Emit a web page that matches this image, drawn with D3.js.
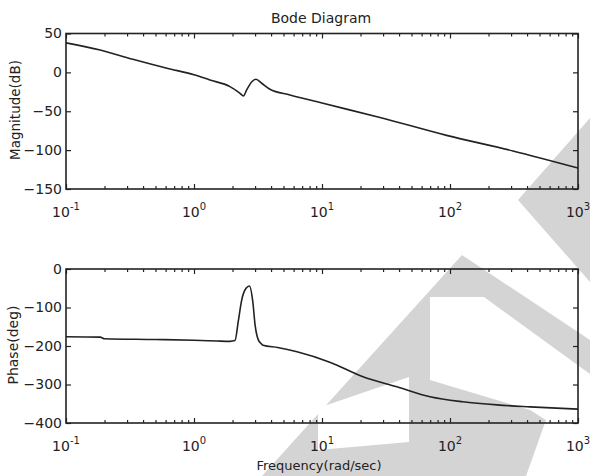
<!DOCTYPE html>
<html><head><meta charset="utf-8">
<script src="https://cdn.jsdelivr.net/npm/d3@7"></script>
<style>html,body{margin:0;padding:0;background:#fff;} svg{display:block;}</style>
</head><body><svg id="c" width="590" height="476"></svg>
<script>
// ---- data ----
const magFreq = [0.1, 0.185, 0.333, 0.615, 1.0, 1.33, 1.91, 2.29, 2.43, 2.58, 2.83, 3.05, 3.38, 3.92, 5.62, 10, 28.4, 94, 310, 1000];
const magDb   = [38, 28.8, 16.8, 5.3, -3, -9.8, -18.3, -26.9, -30.3, -22.6, -12, -8.9, -14, -21.7, -29, -39.5, -58, -81, -101, -123];
const phaseFreq = [0.1, 0.185, 0.2, 0.5, 1.0, 1.5, 1.91, 2.09, 2.22, 2.36, 2.55, 2.71, 2.88, 3.0, 3.18, 3.38, 3.46, 4.5, 6.38, 11.5, 20.9, 38.5, 69.8, 126, 233, 422, 1000];
const phaseDeg  = [-176, -177, -181, -183, -185, -187, -188, -186, -135, -80, -50, -44, -85, -145, -184, -195, -198, -204, -215, -242, -280, -306, -332, -345, -353, -358, -364];
const decadeExponents = [-1, 0, 1, 2, 3];
const magTicks = [50, 0, -50, -100, -150];
const phaseTicks = [0, -100, -200, -300, -400];
const titleText = "Bode Diagram";
const magLabel = "Magnitude(dB)";
const phaseLabel = "Phase(deg)";
const freqLabel = "Frequency(rad/sec)";

// ---- drawing ----
const svg = d3.select("#c");
const FONT = "'DejaVu Sans', 'Liberation Sans', sans-serif";
const INK = "#222";

// background watermark (decoration)
const watermark = [
  [[590,118],[518,200],[590,282]],
  [[462,255],[590,340],[590,374],[484,297],[430,297],[430,476],[262,476]],
  [[430,380],[530,410],[546,420],[526,476],[430,476]]
];
const wm = svg.append("g").attr("fill", "#d4d4d4");
watermark.forEach(p => wm.append("polygon").attr("points", p.map(q => q.join(",")).join(" ")));
svg.append("polygon").attr("fill", "#fff")
  .attr("points", [[318,408],[409,377],[409,442],[318,450]].map(q => q.join(",")).join(" "));

const L = 66, R = 578;
const x = d3.scaleLog().domain([0.1, 1000]).range([L, R]);
const minorTicks = [];
decadeExponents.slice(0, -1).forEach(e => { for (let m = 2; m <= 9; m++) minorTicks.push(m * Math.pow(10, e)); });
const majorTicks = decadeExponents.map(e => Math.pow(10, e));

function panel(y, yTicks, freq, vals, top, bottom) {
  const g = svg.append("g");
  // curve
  g.append("path")
    .datum(d3.zip(freq, vals))
    .attr("fill", "none").attr("stroke", INK).attr("stroke-width", 1.6)
    .attr("stroke-linejoin", "round")
    .attr("d", d3.line().x(d => x(d[0])).y(d => y(d[1])).curve(d3.curveMonotoneX));

  const styleAxis = sel => {
    sel.select(".domain").remove();
    sel.selectAll("line").attr("stroke", INK).attr("stroke-width", 1.2);
    sel.selectAll("text").attr("font-family", FONT).attr("font-size", 14).attr("fill", INK);
  };
  // x ticks bottom & top
  g.append("g").attr("transform", `translate(0,${bottom})`)
    .call(d3.axisBottom(x).tickValues(majorTicks).tickSize(-5).tickFormat("")).call(styleAxis);
  g.append("g").attr("transform", `translate(0,${bottom})`)
    .call(d3.axisBottom(x).tickValues(minorTicks).tickSize(-3).tickFormat("")).call(styleAxis);
  g.append("g").attr("transform", `translate(0,${top})`)
    .call(d3.axisTop(x).tickValues(majorTicks).tickSize(-5).tickFormat("")).call(styleAxis);
  g.append("g").attr("transform", `translate(0,${top})`)
    .call(d3.axisTop(x).tickValues(minorTicks).tickSize(-3).tickFormat("")).call(styleAxis);
  // y ticks left (with labels) & right
  g.append("g").attr("transform", `translate(${L},0)`)
    .call(d3.axisLeft(y).tickValues(yTicks).tickSize(-5).tickPadding(4).tickFormat(d3.format("d"))).call(styleAxis);
  g.append("g").attr("transform", `translate(${R},0)`)
    .call(d3.axisRight(y).tickValues(yTicks).tickSize(-5).tickFormat("")).call(styleAxis);
  // frame
  g.append("rect").attr("x", L).attr("y", top).attr("width", R - L).attr("height", bottom - top)
    .attr("fill", "none").attr("stroke", INK).attr("stroke-width", 1.6);
  // x tick labels 10^n
  decadeExponents.forEach(e => {
    const t = g.append("text").attr("x", x(Math.pow(10, e))).attr("y", bottom + 28)
      .attr("text-anchor", "middle").attr("font-family", FONT).attr("font-size", 14).attr("fill", INK);
    t.append("tspan").text("10");
    t.append("tspan").attr("dy", -7).attr("font-size", 10).text(String(e));
  });
}

const yMag = d3.scaleLinear().domain([-150, 50]).range([189, 33.5]);
const yPh = d3.scaleLinear().domain([-400, 0]).range([423, 269]);
panel(yMag, magTicks, magFreq, magDb, 33.5, 189);
panel(yPh, phaseTicks, phaseFreq, phaseDeg, 269, 423);

// titles
svg.append("text").attr("x", 321).attr("y", 23).attr("text-anchor", "middle")
  .attr("font-family", FONT).attr("font-size", 14).attr("fill", INK).text(titleText);
svg.append("text").attr("transform", "translate(20,110) rotate(-90)").attr("text-anchor", "middle")
  .attr("font-family", FONT).attr("font-size", 13.5).attr("fill", INK).text(magLabel);
svg.append("text").attr("transform", "translate(18,345) rotate(-90)").attr("text-anchor", "middle")
  .attr("font-family", FONT).attr("font-size", 14).attr("fill", INK).text(phaseLabel);
svg.append("text").attr("x", 319).attr("y", 470).attr("text-anchor", "middle")
  .attr("font-family", FONT).attr("font-size", 13).attr("fill", INK).text(freqLabel);
</script></body></html>
